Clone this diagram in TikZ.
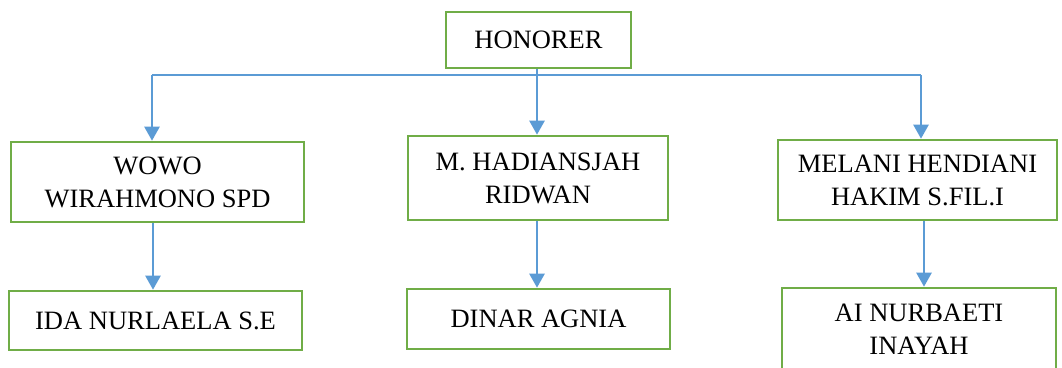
\documentclass[tikz,border=0pt]{standalone}
\usepackage{fontspec}
\setmainfont{Liberation Serif}
\usetikzlibrary{arrows.meta}
\definecolor{boxgreen}{RGB}{112,173,71}
\definecolor{lineblue}{RGB}{91,155,213}
\begin{document}
\begin{tikzpicture}[x=1pt,y=-1pt,
  box/.style={draw=boxgreen,line width=2.6pt,fill=white,align=center,inner sep=0pt,
    font=\fontsize{26.5}{33}\selectfont},
  bus/.style={draw=lineblue,line width=1.6pt},
  arr/.style={draw=lineblue,line width=2.4pt,-{Triangle[length=14pt,width=15pt]}}]
\clip (0,0) rectangle (1062,367);
\useasboundingbox (0,0) rectangle (1062,367);
\fill[white] (0,0) rectangle (1062,367);
\node[box,minimum width=185pt,minimum height=56pt] (hon) at (538.5,40) {HONORER};
\node[box,minimum width=293pt,minimum height=80pt] (wowo) at (157.5,182) {WOWO\\WIRAHMONO SPD};
\node[box,minimum width=293pt,minimum height=59pt] (ida) at (155.5,320.5) {IDA NURLAELA S.E};
\node[box,minimum width=260pt,minimum height=84pt] (mhad) at (538,178) {M. HADIANSJAH\\RIDWAN};
\node[box,minimum width=263pt,minimum height=60pt] (dinar) at (538.5,319) {DINAR AGNIA};
\node[box,minimum width=279pt,minimum height=80pt] (mel) at (917.5,180) {MELANI HENDIANI\\HAKIM S.FIL.I};
\node[box,minimum width=274pt,minimum height=82pt] (ai) at (919,329) {AI NURBAETI\\INAYAH};
\coordinate (jL) at (152,75);
\coordinate (jM) at (537,75);
\coordinate (jR) at (921,75);
\coordinate (xL) at (153,0);
\coordinate (xR) at (924,0);
\draw[bus] (jL) -- (jR);
\draw[arr] (hon.south -| jM) -- (mhad.north -| jM);
\draw[arr] (jL) -- (jL |- wowo.north);
\draw[arr] (jR) -- (jR |- mel.north);
\draw[arr] (wowo.south -| xL) -- (ida.north -| xL);
\draw[arr] (mhad.south -| jM) -- (dinar.north -| jM);
\draw[arr] (mel.south -| xR) -- (ai.north -| xR);
\end{tikzpicture}
\end{document}
